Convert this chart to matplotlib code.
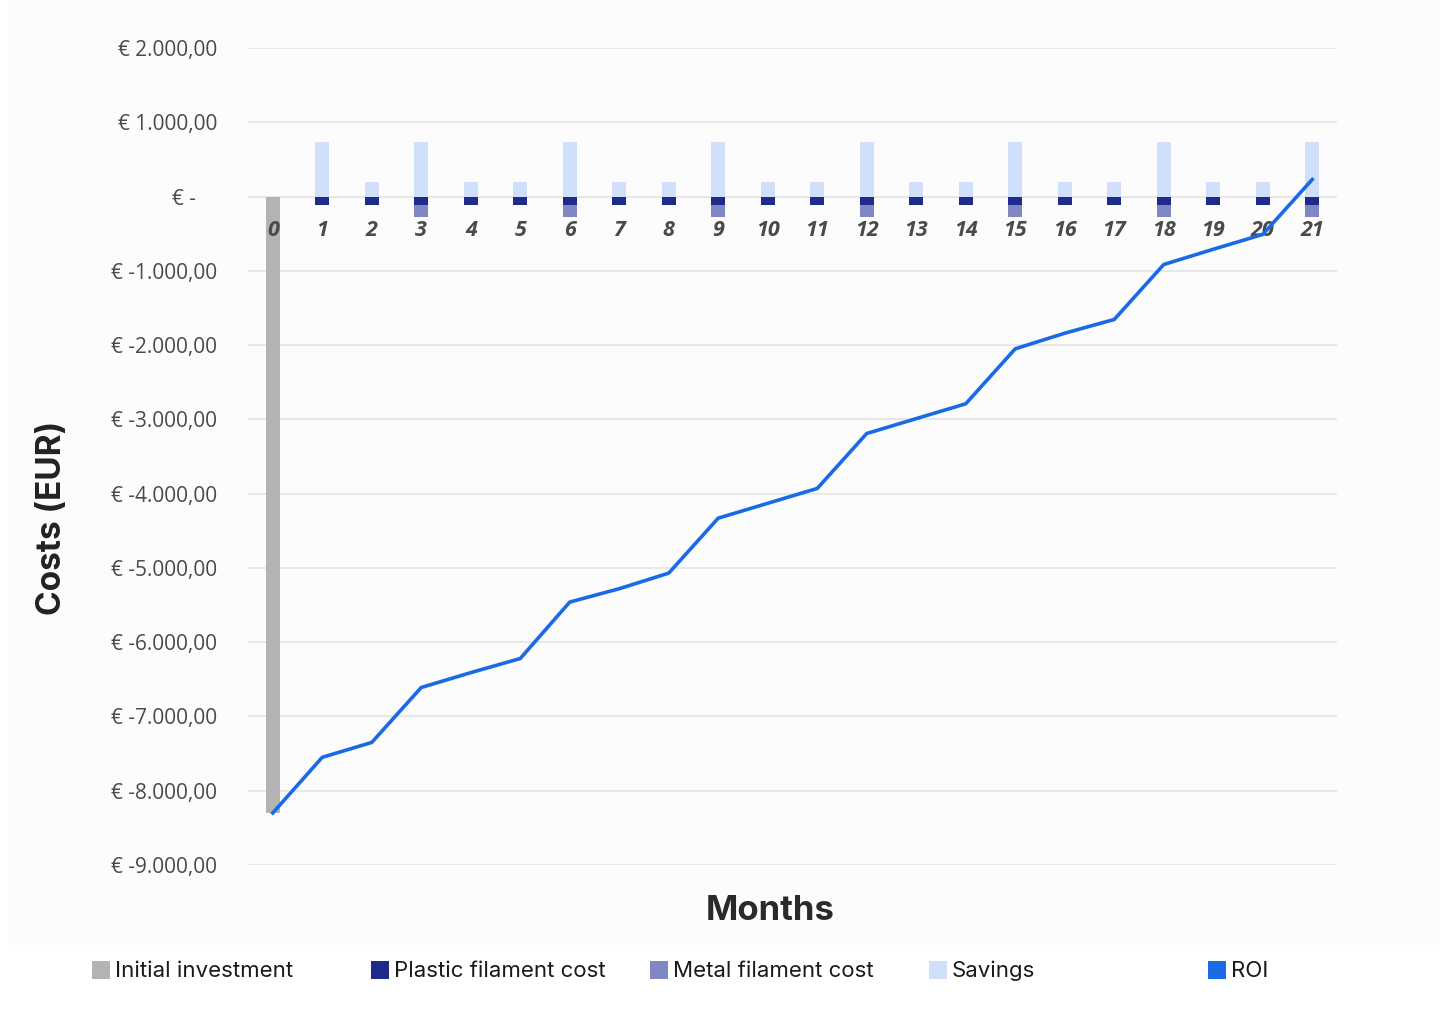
import numpy as np
import matplotlib.pyplot as plt
from matplotlib.patches import Rectangle

# dados
meses = list(range(22))
investimento_inicial = [-8300] + [0] * 21
custo_plastico = [0] + [-110] * 21
custo_metal = [0, 0, 0, -170, 0, 0, -170, 0, 0, -170, 0, 0, -170, 0, 0, -170, 0, 0, -170, 0, 0, -170]
poupanca = [0, 730, 190, 730, 190, 190, 730, 190, 190, 730, 190, 190, 730, 190, 190, 730,
            190, 190, 730, 190, 190, 730]
roi = [-8300, -7550, -7350, -6610, -6410, -6220, -5460, -5280, -5070, -4330, -4130, -3930,
       -3190, -2990, -2790, -2050, -1840, -1655, -915, -710, -510, 230]
y_ticks = list(range(-9000, 2001, 1000))
legenda = ['Initial investment', 'Plastic filament cost', 'Metal filament cost', 'Savings', 'ROI']
cores = ['#b3b3b3', '#1f2b8c', '#8088c4', '#d0e0fa', '#1a6ae6']


def formato_euro(v):
    if v == 0:
        return '€ -    '
    s = f'{abs(v):,.2f}'.replace(',', 'X').replace('.', ',').replace('X', '.')
    return f'€ -{s}' if v < 0 else f'€ {s}'


fig = plt.figure(figsize=(14.4, 10.36), dpi=100)
fig.patches.append(Rectangle((8 / 1440, 1 - 945 / 1036), 1, 945 / 1036, transform=fig.transFigure,
                             facecolor='#fcfcfd', edgecolor='none', zorder=-10))
ax = fig.add_axes([248 / 1440, 1 - 865 / 1036, 1089 / 1440, 817 / 1036])
ax.set_facecolor('none')

x = np.array(meses)
w = 0.28
ax.bar(x, investimento_inicial, width=w, color=cores[0], zorder=2)
ax.bar(x, poupanca, width=w, color=cores[3], zorder=2)
ax.bar(x, custo_plastico, width=w, color=cores[1], zorder=3)
ax.bar(x, custo_metal, width=w, bottom=custo_plastico, color=cores[2], zorder=3)

for m in meses:
    ax.text(m, -460, str(m), ha='center', va='center', fontsize=15.5, fontweight='bold',
            fontstyle='italic', color='#4a4a4a', family='Open Sans', zorder=4)

ax.plot(x, roi, color=cores[4], linewidth=2.6, zorder=5)

ax.set_xlim(-0.5, 21.5)
ax.set_ylim(-9000, 2000)
ax.set_yticks(y_ticks)
ax.set_yticklabels([formato_euro(v) for v in y_ticks], family='Open Sans', fontsize=15,
                   color='#4a4a4a')
ax.set_xticks([])
ax.tick_params(axis='y', length=0, pad=22)
ax.grid(axis='y', color='#e3e3e3', linewidth=1.2, zorder=0)
for s in ax.spines.values():
    s.set_visible(False)

fig.text(52 / 1440, 1 - 518 / 1036, 'Costs (EUR)', rotation=90, ha='center', va='center',
         fontsize=24, fontweight='bold', color='#222222', family='Inter')
fig.text(770 / 1440, 1 - 911 / 1036, 'Months', ha='center', va='center',
         fontsize=25, fontweight='bold', color='#2a2a2a', family='Inter')

# legenda manual com espaçamento igual
for i, (nome, cor) in enumerate(zip(legenda, cores)):
    x0 = 92 + i * 279
    fig.patches.append(Rectangle((x0 / 1440, 1 - 979 / 1036), 18 / 1440, 18 / 1036,
                                 transform=fig.transFigure, facecolor=cor, edgecolor='none'))
    fig.text((x0 + 23) / 1440, 1 - 971 / 1036, nome, ha='left', va='center', fontsize=16,
             color='#1a1a1a', family='Inter')

fig.savefig('out.png', dpi=100, facecolor='white')
